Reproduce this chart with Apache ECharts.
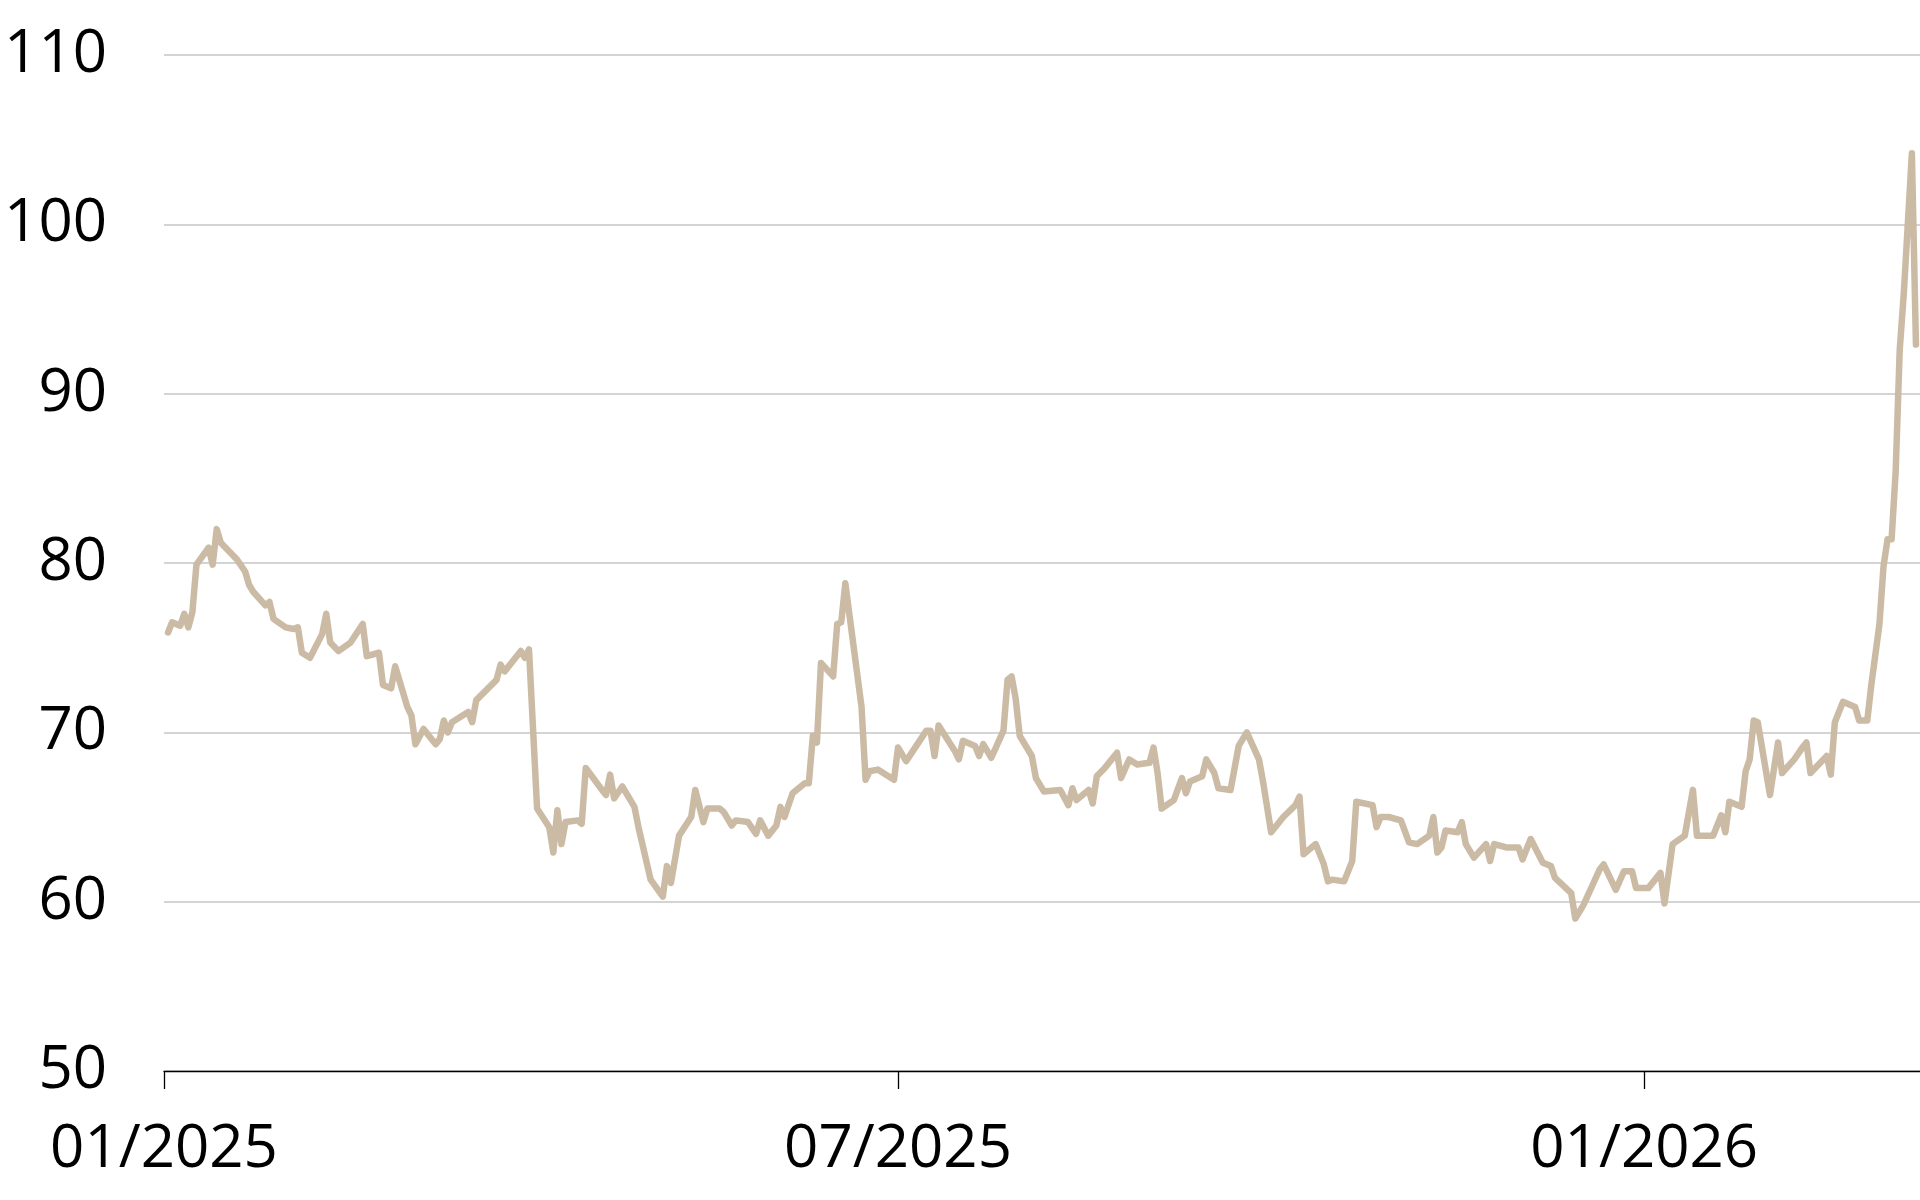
<!DOCTYPE html>
<html>
<head>
<meta charset="utf-8">
<script src="https://cdn.jsdelivr.net/npm/echarts@6/dist/echarts.min.js"></script>
<style>
html,body{margin:0;padding:0;background:#fff;}
#chart{width:1920px;height:1200px;}
</style>
</head>
<body>
<div id="chart"></div>
<script>
var dates = [
'2025-01-02','2025-01-03','2025-01-05','2025-01-06','2025-01-07','2025-01-08','2025-01-09','2025-01-12','2025-01-13','2025-01-14',
'2025-01-15','2025-01-19','2025-01-21','2025-01-22','2025-01-23','2025-01-26','2025-01-27','2025-01-28','2025-01-31','2025-02-02',
'2025-02-03','2025-02-04','2025-02-06','2025-02-09','2025-02-10','2025-02-11','2025-02-13','2025-02-16','2025-02-19','2025-02-20',
'2025-02-23','2025-02-24','2025-02-26','2025-02-27','2025-03-02','2025-03-03','2025-03-04','2025-03-06','2025-03-09','2025-03-10',
'2025-03-11','2025-03-12','2025-03-13','2025-03-17','2025-03-18','2025-03-19','2025-03-24','2025-03-25','2025-03-26','2025-03-30',
'2025-03-31','2025-04-01','2025-04-03','2025-04-06','2025-04-07','2025-04-08','2025-04-09','2025-04-10','2025-04-13','2025-04-14',
'2025-04-15','2025-04-19','2025-04-20','2025-04-21','2025-04-22','2025-04-24','2025-04-27','2025-04-28','2025-05-01','2025-05-04',
'2025-05-05','2025-05-06','2025-05-08','2025-05-11','2025-05-12','2025-05-14','2025-05-15','2025-05-18','2025-05-19','2025-05-21',
'2025-05-22','2025-05-25','2025-05-27','2025-05-28','2025-05-30','2025-06-01','2025-06-02','2025-06-03','2025-06-05','2025-06-08',
'2025-06-09','2025-06-10','2025-06-11','2025-06-12','2025-06-15','2025-06-16','2025-06-17','2025-06-18','2025-06-22','2025-06-23',
'2025-06-24','2025-06-26','2025-06-30','2025-07-01','2025-07-03','2025-07-08','2025-07-09','2025-07-10','2025-07-11','2025-07-15',
'2025-07-16','2025-07-17','2025-07-20','2025-07-21','2025-07-22','2025-07-24','2025-07-27','2025-07-28','2025-07-29','2025-07-30',
'2025-07-31','2025-08-03','2025-08-04','2025-08-06','2025-08-10','2025-08-12','2025-08-13','2025-08-14','2025-08-17','2025-08-18',
'2025-08-19','2025-08-21','2025-08-24','2025-08-25','2025-08-27','2025-08-29','2025-09-01','2025-09-02','2025-09-03','2025-09-04',
'2025-09-07','2025-09-09','2025-09-10','2025-09-11','2025-09-14','2025-09-15','2025-09-17','2025-09-18','2025-09-21','2025-09-23',
'2025-09-25','2025-09-28','2025-09-29','2025-10-01','2025-10-04','2025-10-07','2025-10-08','2025-10-09','2025-10-12','2025-10-14',
'2025-10-15','2025-10-16','2025-10-19','2025-10-21','2025-10-22','2025-10-26','2025-10-27','2025-10-28','2025-10-30','2025-11-02',
'2025-11-04','2025-11-06','2025-11-09','2025-11-10','2025-11-11','2025-11-12','2025-11-13','2025-11-16','2025-11-17','2025-11-18',
'2025-11-20','2025-11-23','2025-11-24','2025-11-25','2025-11-28','2025-12-01','2025-12-02','2025-12-04','2025-12-07','2025-12-09',
'2025-12-10','2025-12-14','2025-12-15','2025-12-17','2025-12-21','2025-12-22','2025-12-25','2025-12-27','2025-12-29','2025-12-30',
'2026-01-02','2026-01-05','2026-01-06','2026-01-08','2026-01-11','2026-01-13','2026-01-14','2026-01-18','2026-01-20','2026-01-21',
'2026-01-22','2026-01-25','2026-01-26','2026-01-27','2026-01-28','2026-01-29','2026-02-01','2026-02-03','2026-02-04','2026-02-07',
'2026-02-09','2026-02-10','2026-02-11','2026-02-15','2026-02-16','2026-02-17','2026-02-19','2026-02-22','2026-02-23','2026-02-25',
'2026-02-26','2026-02-28','2026-03-01','2026-03-02','2026-03-03','2026-03-04','2026-03-05','2026-03-06','2026-03-08','2026-03-09'
];
var values = [
75.9,76.5,76.3,77.0,76.2,77.1,79.9,80.9,79.9,82.0,
81.2,80.2,79.5,78.7,78.3,77.5,77.7,76.7,76.2,76.1,
76.2,74.7,74.4,75.8,77.0,75.3,74.8,75.3,76.4,74.5,
74.7,72.8,72.6,73.9,71.5,71.0,69.3,70.2,69.3,69.6,
70.7,70.0,70.6,71.2,70.6,71.9,73.1,74.0,73.6,74.8,
74.4,74.9,65.5,64.4,62.9,65.4,63.4,64.7,64.8,64.6,
67.9,66.6,66.3,67.5,66.1,66.8,65.6,64.4,61.3,60.3,
62.1,61.1,63.9,65.0,66.6,64.7,65.5,65.5,65.3,64.5,
64.8,64.7,64.0,64.8,63.9,64.5,65.6,65.0,66.4,67.0,
67.0,69.8,69.4,74.1,73.3,76.4,76.5,78.8,71.5,67.2,
67.7,67.8,67.2,69.1,68.3,70.1,70.1,68.6,70.4,68.9,
68.4,69.5,69.2,68.6,69.3,68.5,70.1,73.1,73.3,72.0,
69.8,68.6,67.3,66.5,66.6,65.7,66.7,66.0,66.6,65.8,
67.4,67.9,68.8,67.3,68.4,68.1,68.2,69.1,67.6,65.5,
66.0,67.3,66.4,67.1,67.4,68.4,67.6,66.7,66.6,69.2,
70.0,68.4,67.1,64.1,65.0,65.7,66.2,62.8,63.4,62.2,
61.2,61.3,61.2,62.4,65.9,65.7,64.4,65.0,65.0,64.8,
63.5,63.4,63.9,65.0,62.9,63.2,64.2,64.1,64.7,63.4,
62.6,63.4,62.4,63.4,63.2,63.2,62.5,63.7,62.3,62.1,
61.4,60.5,59.0,59.8,61.9,62.2,60.7,61.8,61.8,60.8,
60.8,61.7,59.9,63.4,63.9,66.6,63.9,63.9,65.1,64.1,
65.9,65.6,67.7,68.4,70.7,70.6,66.3,69.4,67.6,68.4,
69.1,69.4,67.6,68.6,67.5,70.6,71.8,71.5,70.7,70.7,
72.8,76.4,79.8,81.4,81.4,85.4,92.6,95.9,104.2,92.9
];
var tickDates = ['2025-01-01','2025-07-01','2026-01-01'];
var tickLabels = ['01/2025','07/2025','01/2026'];
var yTicks = [50,60,70,80,90,100,110];

var seriesData = dates.map(function(d,i){ return [Date.parse(d), values[i]]; });
var tickTs = tickDates.map(function(d){ return Date.parse(d); });
var labelMap = {};
tickTs.forEach(function(t,i){ labelMap[t] = tickLabels[i]; });

var chart = echarts.init(document.getElementById('chart'), null, {renderer:'canvas'});
chart.setOption({
  animation: false,
  backgroundColor: '#ffffff',
  grid: {left: 164, right: 0, top: 55, bottom: 129, containLabel: false},
  xAxis: {
    type: 'value',
    min: Date.parse('2025-01-01'),
    max: Date.parse('2026-03-10'),
    axisLine: {show: true, lineStyle: {color: '#000', width: 1.3}},
    axisTick: {show: true, length: 18, lineStyle: {color: '#000', width: 1.3}, customValues: tickTs},
    axisLabel: {
      customValues: tickTs,
      margin: 49,
      color: '#000',
      fontFamily: 'Open Sans',
      fontSize: 60,
      formatter: function(v){ return labelMap[v] || ''; }
    },
    splitLine: {show: false}
  },
  yAxis: {
    type: 'value',
    min: yTicks[0],
    max: yTicks[yTicks.length-1],
    interval: 10,
    axisLine: {show: false},
    axisTick: {show: false},
    axisLabel: {margin: 57, color: '#000', fontFamily: 'Open Sans', fontSize: 60},
    splitLine: {show: true, lineStyle: {color: '#c6c6c6', width: 1.5}}
  },
  series: [{
    type: 'line',
    data: seriesData,
    showSymbol: false,
    symbol: 'none',
    lineStyle: {color: '#cbbba5', width: 6.5, join: 'round', cap: 'round'},
    z: 3
  }]
});
</script>
</body>
</html>
